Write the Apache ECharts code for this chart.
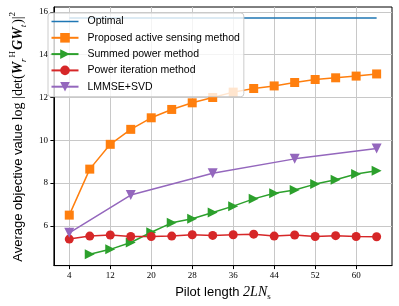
<!DOCTYPE html>
<html>
<head>
<meta charset="utf-8">
<script src="https://cdn.jsdelivr.net/npm/echarts@6/dist/echarts.min.js"></script>
<style>html,body{margin:0;padding:0;background:#fff;}#c{width:399px;height:306px;}</style>
</head>
<body>
<div id="c"></div>
<script>
const xTicks = [4, 12, 20, 28, 36, 44, 52, 60];
const yTicks = [6, 8, 10, 12, 14, 16];
const xAll = [4, 8, 12, 16, 20, 24, 28, 32, 36, 40, 44, 48, 52, 56, 60, 64];
const optimalVals = [15.72, 15.72, 15.72, 15.72, 15.72, 15.72, 15.72, 15.72, 15.72, 15.72, 15.72, 15.72, 15.72, 15.72, 15.72, 15.72];
const proposedVals = [6.5, 8.65, 9.81, 10.51, 11.05, 11.44, 11.75, 12.0, 12.25, 12.42, 12.54, 12.7, 12.84, 12.92, 13.0, 13.1];
const xSummed = [8, 12, 16, 20, 24, 28, 32, 36, 40, 44, 48, 52, 56, 60, 64];
const summedVals = [4.67, 4.9, 5.22, 5.7, 6.14, 6.33, 6.62, 6.92, 7.26, 7.52, 7.67, 7.95, 8.15, 8.42, 8.57];
const powerVals = [5.38, 5.52, 5.57, 5.5, 5.5, 5.52, 5.58, 5.55, 5.58, 5.61, 5.52, 5.57, 5.5, 5.54, 5.5, 5.49];
const xLmmse = [4, 16, 32, 48, 64];
const lmmseVals = [5.67, 7.44, 8.46, 9.13, 9.62];
const names = ['Optimal', 'Proposed active sensing method', 'Summed power method', 'Power iteration method', 'LMMSE+SVD'];
const colors = ['#1f77b4', '#ff7f0e', '#2ca02c', '#d62728', '#9467bd'];

const zip = (xs, ys) => xs.map((x, i) => [x, ys[i]]);
const chart = echarts.init(document.getElementById('c'), null, {renderer: 'canvas'});
const serifTick = {fontFamily: 'Liberation Serif', fontSize: 9, color: '#000'};
const mathStyle = {fontFamily: 'Liberation Serif', fontSize: 14, color: '#000'};
const boldIt = {fontFamily: 'Liberation Serif', fontSize: 14, fontWeight: 'bold', fontStyle: 'italic', color: '#000'};
const sub = {fontFamily: 'Liberation Serif', fontStyle: 'italic', fontSize: 9, color: '#000', verticalAlign: 'bottom', lineHeight: 20, padding: [0, 1, 0, 0]};
const sup = {fontFamily: 'Liberation Serif', fontSize: 9, color: '#000', verticalAlign: 'top', lineHeight: 20, padding: [0, 1, 0, 0]};

function mk(name, color, data, symbol, size, rot) {
  return {
    name, type: 'line', data, color,
    symbol, symbolSize: size, symbolRotate: rot || 0,
    showSymbol: symbol !== 'none',
    lineStyle: {width: 1.5, color},
    itemStyle: {color},
    emphasis: {disabled: true},
    animation: false
  };
}

chart.setOption({
  animation: false,
  grid: {left: 42, right: 7, top: 7, bottom: 39, show: true, borderColor: '#000', borderWidth: 1, containLabel: false},
  xAxis: {
    type: 'value', min: 1, max: 67,
    name: 'Pilot length {it|2LN}{s|s}',
    nameLocation: 'middle', nameGap: 13,
    nameTextStyle: {fontFamily: 'Liberation Sans', fontSize: 13, color: '#000',
      rich: {it: {fontFamily: 'Liberation Serif', fontStyle: 'italic', fontSize: 14, color: '#000'},
             s: {fontFamily: 'Liberation Serif', fontSize: 9, color: '#000', verticalAlign: 'bottom', lineHeight: 17}}},
    axisLine: {show: true, lineStyle: {color: '#000', width: 1}},
    axisTick: {show: true, inside: false, length: 3.5, customValues: xTicks, lineStyle: {color: '#000'}},
    axisLabel: {customValues: xTicks, margin: 6, ...serifTick},
    splitLine: {show: true, lineStyle: {color: '#c8c8c8', width: 1}}
  },
  yAxis: {
    type: 'value', min: 4.14, max: 16.23,
    name: 'Average objective value {m|log |det(}{b|W}{sb|r}{sp|H}{b|GW}{sb|t}{m|)|}{sp|2}',
    nameLocation: 'middle', nameGap: 24, nameRotate: 90,
    nameTextStyle: {fontFamily: 'Liberation Sans', fontSize: 13, color: '#000',
      rich: {m: mathStyle, b: boldIt, sb: sub, sp: sup}},
    axisLine: {show: true, lineStyle: {color: '#000', width: 1}},
    axisTick: {show: true, inside: false, length: 3.5, customValues: yTicks, lineStyle: {color: '#000'}},
    axisLabel: {customValues: yTicks, margin: 6, ...serifTick},
    splitLine: {show: true, lineStyle: {color: '#c8c8c8', width: 1}}
  },
  legend: {
    orient: 'vertical', left: 48, top: 13, z: 10,
    padding: [2.5, 4, 4, 2.5],
    itemWidth: 27, itemHeight: 12, itemGap: 4.3,
    backgroundColor: 'rgba(255,255,255,0.8)', borderColor: '#cccccc', borderWidth: 1, borderRadius: 3,
    textStyle: {fontFamily: 'Liberation Sans', fontSize: 10.5, color: '#000', lineHeight: 12, padding: [0, 0, 0, 4]},
    data: [{name: names[0], icon: 'path://M0,0L27,0L27,1.5L0,1.5Z'}, names[1], names[2], names[3], names[4]]
  },
  series: [
    mk(names[0], colors[0], zip(xAll, optimalVals), 'none', 0),
    mk(names[1], colors[1], zip(xAll, proposedVals), 'rect', 9),
    mk(names[2], colors[2], zip(xSummed, summedVals), 'triangle', 10, -90),
    mk(names[3], colors[3], zip(xAll, powerVals), 'circle', 9),
    mk(names[4], colors[4], zip(xLmmse, lmmseVals), 'triangle', 10, 180)
  ]
});
</script>
</body>
</html>
